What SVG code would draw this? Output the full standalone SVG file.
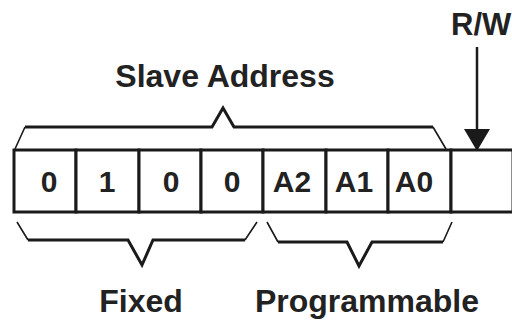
<svg xmlns="http://www.w3.org/2000/svg" width="512" height="320" viewBox="0 0 512 320">
<style>
.t{font-family:"Liberation Sans",Arial,sans-serif;font-weight:bold;fill:#222;}
.lbl{font-size:32px;}
.bit{font-size:30px;text-anchor:middle;}
.cell{fill:#fff;stroke:#1a1a1a;stroke-width:3;}
.brace{fill:none;stroke:#1a1a1a;stroke-width:3;stroke-linejoin:miter;}
.thin{fill:none;stroke:#1a1a1a;stroke-width:1.6;}
</style>
<defs>
<marker id="ah" markerWidth="22" markerHeight="26" refX="20" refY="13" orient="auto" markerUnits="userSpaceOnUse" viewBox="0 0 22 26">
<path d="M0,0 L22,13 L0,26 Z" fill="#1a1a1a"/>
</marker>
</defs>
<rect width="512" height="320" fill="#fff"/>
<g id="register">
<g id="bit7"><rect class="cell" x="14" y="150" width="62" height="62"/><text class="t bit" x="49" y="192">0</text></g>
<g id="bit6"><rect class="cell" x="76" y="150" width="63" height="62"/><text class="t bit" x="107" y="192">1</text></g>
<g id="bit5"><rect class="cell" x="139" y="150" width="62" height="62"/><text class="t bit" x="171" y="192">0</text></g>
<g id="bit4"><rect class="cell" x="201" y="150" width="62" height="62"/><text class="t bit" x="232" y="192">0</text></g>
<g id="bit3"><rect class="cell" x="263" y="150" width="63" height="62"/><text class="t bit" x="292" y="192">A2</text></g>
<g id="bit2"><rect class="cell" x="326" y="150" width="62" height="62"/><text class="t bit" x="354" y="192">A1</text></g>
<g id="bit1"><rect class="cell" x="388" y="150" width="63" height="62"/><text class="t bit" x="414" y="192">A0</text></g>
<g id="bit0"><rect class="cell" x="451" y="150" width="62" height="62"/></g>
</g>
<g id="connectors">
<path class="brace" d="M25,127 L212,127 L223,108 L234,127 L433,127"/>
<path class="thin" d="M25,127 L15,149 M433,127 L446,149"/>
<path class="brace" d="M28,240 L128,240 L142,265 L153,240 L245,240"/>
<path class="thin" d="M17,222 L28,240 M245,240 L257,222"/>
<path class="brace" d="M278,242 L347,242 L359,266 L372,242 L443,242"/>
<path class="thin" d="M267,222 L278,242 M443,242 L452,222"/>
<line x1="477" y1="47" x2="477" y2="149" stroke="#1a1a1a" stroke-width="2.5" marker-end="url(#ah)"/>
</g>
<g id="slave-address"><text class="t lbl" x="225" y="87" text-anchor="middle">Slave Address</text></g>
<g id="rw"><text class="t" x="451" y="35" font-size="31">R/W</text></g>
<g id="fixed"><text class="t lbl" x="141" y="312" text-anchor="middle">Fixed</text></g>
<g id="programmable"><text class="t lbl" x="367" y="312" text-anchor="middle">Programmable</text></g>
</svg>
